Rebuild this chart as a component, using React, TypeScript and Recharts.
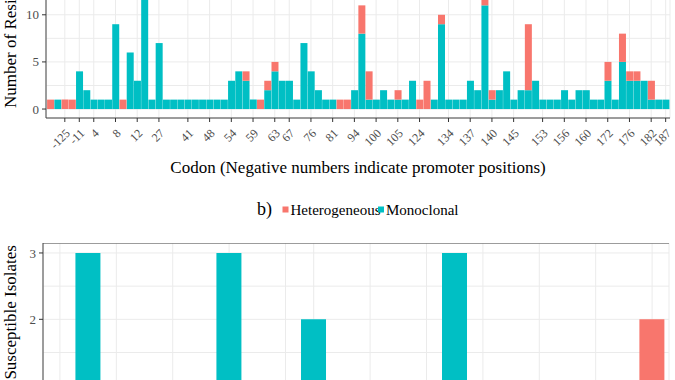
import React from "react";
import { BarChart, Bar, XAxis, YAxis, CartesianGrid, ReferenceLine } from "recharts";

const TEAL = "#00BFC4";
const RED = "#F8766D";
const SERIF = "'Liberation Serif', 'Times New Roman', serif";
const GRID = "#ebebeb";
const BORDER = "#444";

// a) resistant isolates, one bar per mutation (only some codons are labelled)
const resMonoclonal = [
  0, 1, 0, 0, 4, 2, 1, 1, 1, 9,
  0, 6, 3, 18, 1, 7, 1, 1, 1, 1,
  1, 1, 1, 1, 1, 3, 4, 3, 1, 0,
  2, 4, 3, 3, 1, 7, 4, 2, 1, 1,
  0, 0, 2, 8, 1, 1, 2, 1, 1, 1,
  3, 0, 0, 1, 9, 1, 1, 1, 3, 2,
  11, 1, 2, 4, 1, 2, 2, 3, 1, 1,
  1, 2, 1, 2, 2, 1, 1, 3, 1, 5,
  3, 3, 3, 1, 1, 1,
];
const resHeterogeneous = [
  1, 0, 1, 1, 0, 0, 0, 0, 0, 0,
  1, 0, 0, 0, 0, 0, 0, 0, 0, 0,
  0, 0, 0, 0, 0, 0, 0, 1, 0, 1,
  1, 1, 0, 0, 0, 0, 0, 0, 0, 0,
  1, 1, 0, 3, 3, 0, 0, 0, 1, 0,
  0, 1, 3, 0, 1, 0, 0, 0, 0, 0,
  1, 1, 0, 0, 0, 0, 7, 0, 0, 0,
  0, 0, 0, 0, 0, 0, 0, 2, 0, 3,
  1, 1, 0, 2, 0, 0,
];
const labelledBars = [3, 5, 7, 10, 13, 16, 20, 23, 26, 29, 32, 34, 37, 40, 43, 46, 49, 52, 56, 59, 62, 65, 69, 72, 75, 78, 81, 84, 86];
const labelledCodons = ["-125", "-11", "4", "8", "12", "27", "41", "48", "54", "59", "63", "67", "76", "81", "94", "100", "105", "124", "134", "137", "140", "145", "153", "156", "160", "172", "176", "182", "187"];
const resTicksY = [0, 2.5, 5, 7.5, 10, 12.5, 15, 17.5];
const resMajorY = [0, 5, 10, 15];

// b) susceptible isolates
const susMonoclonal = [0, 3, 0, 0, 0, 0, 3, 0, 0, 2, 0, 0, 0, 0, 3, 0, 0, 0, 0, 0, 0, 0];
const susHeterogeneous = [0, 0, 0, 0, 0, 0, 0, 0, 0, 0, 0, 0, 0, 0, 0, 0, 0, 0, 0, 0, 0, 2];
const susBreaks = [1, 3, 5, 7, 9, 10, 12, 14, 16, 18, 20, 22];
const susTicksY = [0, 0.5, 1, 1.5, 2, 2.5, 3];
const susMajorY = [0, 1, 2, 3];

const resData = resMonoclonal.map((m, i) => ({ id: i + 1, mono: m, het: resHeterogeneous[i] }));
const susData = susMonoclonal.map((m, i) => ({ id: i + 1, mono: m, het: susHeterogeneous[i] }));

function YTick(props: any) {
  const { x, y, payload, majors } = props;
  if (!majors.includes(payload.value)) return null;
  return (
    <g>
      <line x1={x + 3} x2={x + 7} y1={y} y2={y} stroke="#333" />
      <text x={x} y={y} dy="0.35em" textAnchor="end" fontSize={13} fontFamily={SERIF} fill="#4d4d4d">
        {payload.value}
      </text>
    </g>
  );
}

function CodonTick(props: any) {
  const { x, y, payload } = props;
  const k = labelledBars.indexOf(payload.value);
  if (k < 0) return null;
  return (
    <g>
      <line x1={x} x2={x} y1={y - 6} y2={y - 2} stroke="#333" />
      <text
        transform={`translate(${x + 6},${y + 10}) rotate(-45)`}
        textAnchor="end"
        fontSize={12}
        fontFamily={SERIF}
        fill="#4d4d4d"
      >
        {labelledCodons[k]}
      </text>
    </g>
  );
}

function BreakTick(props: any) {
  const { x, y } = props;
  return <line x1={x} x2={x} y1={y - 6} y2={y - 2} stroke="#333" />;
}

export default function App() {
  return (
    <div style={{ position: "absolute", left: 0, top: 0, width: 675, height: 380, overflow: "hidden", background: "#fff" }}>
      {/* panel a, cropped at the top */}
      <div style={{ position: "absolute", left: 0, top: -79 }}>
        <BarChart width={675} height={257} data={resData} margin={{ top: 0, right: 5, bottom: 0, left: 0 }} barCategoryGap="5%">
          <CartesianGrid stroke={GRID} />
          <XAxis
            dataKey="id"
            type="category"
            ticks={labelledBars}
            interval={0}
            height={60}
            padding={{ left: 0.72, right: 0.72 }}
            tickSize={4}
            tickMargin={2}
            tickLine={false}
            axisLine={{ stroke: BORDER }}
            tick={(p: any) => <CodonTick {...p} />}
          />
          <YAxis
            type="number"
            domain={[-0.95, 19.95]}
            ticks={resTicksY}
            interval={0}
            width={46}
            tickSize={4}
            tickMargin={3}
            tickLine={false}
            axisLine={{ stroke: BORDER }}
            tick={(p: any) => <YTick {...p} majors={resMajorY} />}
          />
          <YAxis yAxisId="r" orientation="right" domain={[-0.95, 19.95]} width={0} tick={false} tickLine={false} axisLine={{ stroke: BORDER }} />
          <Bar dataKey="mono" stackId="s" fill={TEAL} isAnimationActive={false} />
          <Bar dataKey="het" stackId="s" fill={RED} isAnimationActive={false} />
        </BarChart>
      </div>

      {/* panel b, cropped at the bottom */}
      <div style={{ position: "absolute", left: 0, top: 243 }}>
        <BarChart width={675} height={249} data={susData} margin={{ top: 0, right: 6, bottom: 0, left: 0 }} barCategoryGap="5%">
          <CartesianGrid stroke={GRID} />
          <XAxis
            dataKey="id"
            type="category"
            ticks={susBreaks}
            interval={0}
            height={30}
            padding={{ left: 2.82, right: 2.82 }}
            tickSize={4}
            tickMargin={2}
            tickLine={false}
            axisLine={{ stroke: BORDER }}
            tick={(p: any) => <BreakTick {...p} />}
          />
          <YAxis
            type="number"
            domain={[-0.15, 3.15]}
            ticks={susTicksY}
            interval={0}
            width={43}
            tickSize={4}
            tickMargin={3}
            tickLine={false}
            axisLine={{ stroke: BORDER }}
            tick={(p: any) => <YTick {...p} majors={susMajorY} />}
          />
          <YAxis yAxisId="r" orientation="right" domain={[-0.15, 3.15]} width={0} tick={false} tickLine={false} axisLine={{ stroke: BORDER }} />
          <ReferenceLine y={3.15} stroke={BORDER} />
          <Bar dataKey="mono" stackId="s" fill={TEAL} isAnimationActive={false} />
          <Bar dataKey="het" stackId="s" fill={RED} isAnimationActive={false} />
        </BarChart>
      </div>

      {/* titles and legend */}
      <svg width={675} height={380} style={{ position: "absolute", left: 0, top: 0, pointerEvents: "none" }} fontFamily={SERIF}>
        <text transform="translate(16,9.5) rotate(-90)" textAnchor="middle" fontSize={17} fill="#000">
          Number of Resistant Isolates
        </text>
        <text x={358} y={173} textAnchor="middle" fontSize={17} fill="#000">
          Codon (Negative numbers indicate promoter positions)
        </text>
        <text x={257} y={215} fontSize={18} fill="#000">b)</text>
        <rect x={282.5} y={206.5} width={6} height={6} fill={RED} />
        <text x={290.5} y={215} fontSize={15} fill="#000">Heterogeneous</text>
        <rect x={378} y={206.5} width={6} height={6} fill={TEAL} />
        <text x={386} y={215} fontSize={15} fill="#000">Monoclonal</text>
        <text transform="translate(16,351.5) rotate(-90)" textAnchor="middle" fontSize={17} fill="#000">
          Number of Susceptible Isolates
        </text>
      </svg>
    </div>
  );
}
